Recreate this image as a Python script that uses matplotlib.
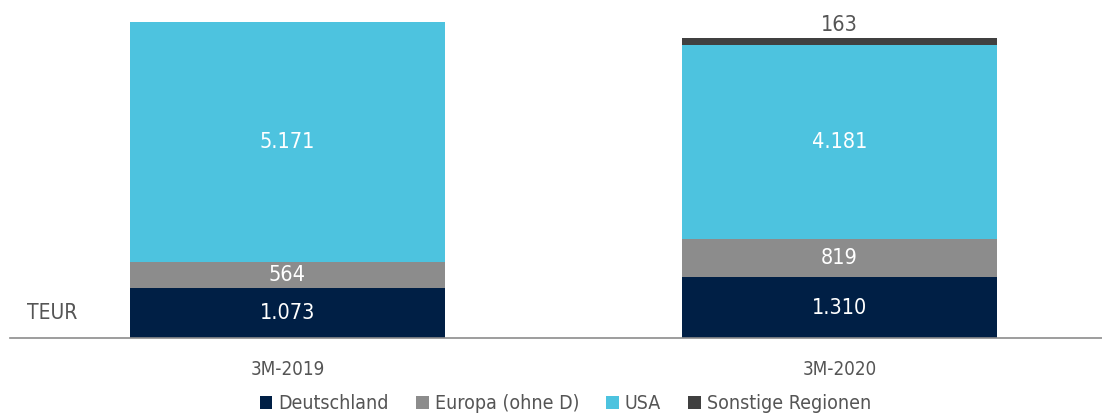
import matplotlib.pyplot as plt
import numpy as np
from matplotlib.patches import Patch

plt.rcParams["font.family"] = ["DejaVu Sans"]
plt.rcParams["font.stretch"] = "condensed"

categories = ["3M-2019", "3M-2020"]
series = ["Deutschland", "Europa (ohne D)", "USA", "Sonstige Regionen"]
deutschland = [1073, 1310]
europa = [564, 819]
usa = [5171, 4181]
sonstige = [0, 163]

colors = ["#001f45", "#8c8c8c", "#4dc3df", "#404040"]
grey_text = "#555555"

W, H, DPI = 1102, 416, 100
fig = plt.figure(figsize=(W / DPI, H / DPI), dpi=DPI, facecolor="white")

# axes: baseline at y=338px, bar centers at 287.5px and 839.5px
ax_left, ax_right = 10, 1102
base_px = 338
unit = 552.0
x0 = 287.5
ax = fig.add_axes((ax_left / W, 1 - base_px / H, (ax_right - ax_left) / W, base_px / H))
ax.set_xlim((ax_left - x0) / unit, (ax_right - x0) / unit)
px_per_val = 316 / 6808
ax.set_ylim(0, base_px / px_per_val)

x = np.arange(len(categories))
width = 315 / unit
bottom = np.zeros(len(categories))
data = [deutschland, europa, usa, sonstige]
for vals, col in zip(data, colors):
    vals = np.array(vals, dtype=float)
    ax.bar(x, vals, width, bottom=bottom, color=col, edgecolor="none")
    for xi, v, b in zip(x, vals, bottom):
        if v <= 0:
            continue
        if v < 300:
            ax.text(xi, b + v + 50, f"{int(v):,}".replace(",", "."), ha="center",
                    va="bottom", fontsize=15.5, color=grey_text)
        else:
            ax.text(xi, b + v / 2, f"{int(v):,}".replace(",", "."), ha="center",
                    va="center", fontsize=15.5, color="white")
    bottom += vals

for s in ["top", "right", "left"]:
    ax.spines[s].set_visible(False)
ax.spines["bottom"].set_color("#8c8c8c")
ax.spines["bottom"].set_linewidth(1.2)
ax.set_yticks([])
ax.set_xticks(x)
ax.set_xticklabels(categories, fontsize=13.5, color=grey_text)
ax.tick_params(axis="x", length=0, pad=16)

ax.text((52 - x0) / unit, 1073 / 2, "TEUR", ha="center", va="center",
        fontsize=15, color=grey_text)

handles = [Patch(facecolor=c, edgecolor="none") for c in colors]
fig.legend(handles, series, loc="lower center", bbox_to_anchor=(0.513, -0.035),
           ncol=4, frameon=False, fontsize=14, handlelength=0.65, handleheight=0.65,
           handletextpad=0.3, columnspacing=1.4, labelcolor=grey_text)

fig.savefig("out.png", dpi=DPI, facecolor="white")
